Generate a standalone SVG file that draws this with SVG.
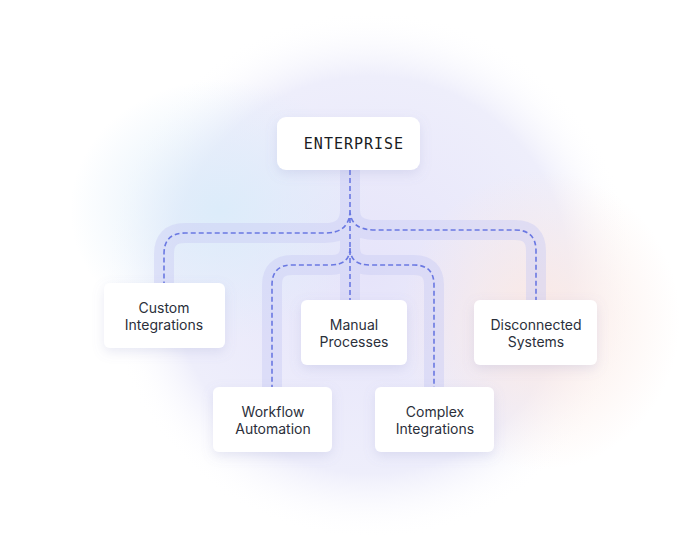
<svg xmlns="http://www.w3.org/2000/svg" width="700" height="536" viewBox="0 0 700 536">
<defs>
<radialGradient id="bg" cx="0.5" cy="0.5" r="0.5">
<stop offset="0" stop-color="#e6e4fa"/><stop offset="0.75" stop-color="#eeeefb"/><stop offset="1" stop-color="#ffffff" stop-opacity="0"/>
</radialGradient>
<radialGradient id="bl" cx="0.5" cy="0.5" r="0.5"><stop offset="0" stop-color="#dcecfa"/><stop offset="1" stop-color="#dcecfa" stop-opacity="0"/></radialGradient>
<radialGradient id="pc" cx="0.5" cy="0.5" r="0.5"><stop offset="0" stop-color="#fbe9e4"/><stop offset="1" stop-color="#fbe9e4" stop-opacity="0"/></radialGradient>
<filter id="sh" x="-30%" y="-30%" width="160%" height="180%"><feDropShadow dx="0" dy="4" stdDeviation="6" flood-color="#8088c0" flood-opacity="0.18"/></filter>
</defs>
<style>
.box{fill:#fff;filter:url(#sh)}
.t{font-family:Inter,"Liberation Sans",sans-serif;font-size:14px;fill:#2b2f3a;text-anchor:middle}
.band{fill:none;stroke:#c9cdf3;stroke-opacity:0.45;stroke-width:20;stroke-linejoin:round}
.dash{fill:none;stroke:#6a78e2;stroke-width:1.6;stroke-dasharray:5 3}
</style>
<circle cx="370" cy="275" r="265" fill="url(#bg)"/>
<ellipse cx="220" cy="210" rx="150" ry="130" fill="url(#bl)"/>
<ellipse cx="540" cy="320" rx="140" ry="150" fill="url(#pc)"/>
<g id="connectors">
<path class="band" d="M350 170 V300 M350 210 Q350 233 325 233 H185 Q164 233 164 254 V283 M350 210 Q350 230 375 230 H515 Q536 230 536 251 V300 M350 248 Q350 265 330 265 H292 Q272 265 272 285 V387 M350 248 Q350 265 370 265 H414 Q434 265 434 285 V387"/>
<path class="dash" d="M350 170 V300 M350 210 Q350 233 325 233 H185 Q164 233 164 254 V283 M350 210 Q350 230 375 230 H515 Q536 230 536 251 V300 M350 248 Q350 265 330 265 H292 Q272 265 272 285 V387 M350 248 Q350 265 370 265 H414 Q434 265 434 285 V387"/>
</g>
<g id="enterprise"><rect class="box" x="277" y="117" width="143" height="53" rx="9"/><text x="354" y="149" font-family="'DejaVu Sans Mono','Liberation Mono',monospace" font-size="15" fill="#1a1c22" text-anchor="middle" letter-spacing="1">ENTERPRISE</text></g>
<g id="custom"><rect class="box" x="104" y="283" width="121" height="65" rx="6"/><text class="t" x="164" y="313">Custom</text><text class="t" x="164" y="330">Integrations</text></g>
<g id="manual"><rect class="box" x="301" y="300" width="106" height="65" rx="6"/><text class="t" x="354" y="330">Manual</text><text class="t" x="354" y="347">Processes</text></g>
<g id="disconnected"><rect class="box" x="474" y="300" width="123" height="65" rx="6"/><text class="t" x="536" y="330">Disconnected</text><text class="t" x="536" y="347">Systems</text></g>
<g id="workflow"><rect class="box" x="213" y="387" width="119" height="65" rx="6"/><text class="t" x="273" y="417">Workflow</text><text class="t" x="273" y="434">Automation</text></g>
<g id="complex"><rect class="box" x="375" y="387" width="119" height="65" rx="6"/><text class="t" x="435" y="417">Complex</text><text class="t" x="435" y="434">Integrations</text></g>
</svg>
